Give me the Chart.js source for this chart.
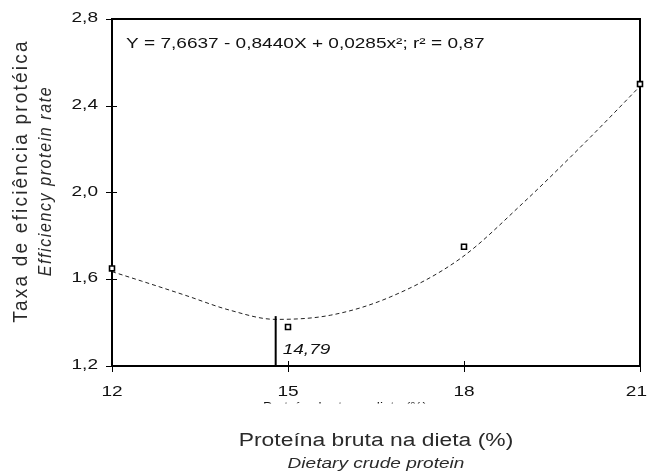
<!DOCTYPE html>
<html>
<head>
<meta charset="utf-8">
<script src="https://cdn.jsdelivr.net/npm/chart.js@4.4.1/dist/chart.umd.min.js"></script>
<style>
html,body{margin:0;padding:0;background:#fff;}
#wrap{position:relative;width:648px;height:475px;}
</style>
</head>
<body>
<div id="wrap"><canvas id="c" width="648" height="475"></canvas></div>
<script>
// ---- data ----
const xTickValues = [12, 15, 18, 21];
const xTickLabels = ['12', '15', '18', '21'];
const yTickValues = [1.2, 1.6, 2.0, 2.4, 2.8];
const yTickLabels = ['1,2', '1,6', '2,0', '2,4', '2,8'];
const observedX = [12, 15, 18, 21];
const observedY = [1.65, 1.38, 1.75, 2.50];
const curveX = [12.0, 12.5, 13.25, 14.0, 14.79, 15.72, 16.74, 17.94, 19.0, 20.15, 21.0];
const curveY = [1.635, 1.592, 1.526, 1.458, 1.415, 1.434, 1.518, 1.696, 1.95, 2.254, 2.49];
const optimumX = [14.79, 14.79];
const optimumY = [1.2, 1.43];
const optimumLabel = '14,79';
const equationText = 'Y = 7,6637 - 0,8440X + 0,0285x\u00B2; r\u00B2 = 0,87';
const yTitle = 'Taxa de efici\u00EAncia prot\u00E9ica';
const yTitleEn = 'Efficiency protein rate';
const xTitle = 'Prote\u00EDna bruta na dieta (%)';
const xTitleEn = 'Dietary crude protein';

const FONT = '"Liberation Sans", Arial, sans-serif';
const SX = 1.27; // horizontal stretch of the reference lettering

function txt(ctx, s, x, y, align, font, sx, base) {
  ctx.save();
  ctx.translate(x, y);
  ctx.scale(sx, 1);
  ctx.font = font;
  ctx.textAlign = align;
  ctx.textBaseline = base || 'middle';
  ctx.fillText(s, 0, 0);
  ctx.restore();
}

const decor = {
  id: 'decor',
  beforeDatasetsDraw(chart) {
    const {ctx, chartArea: a, scales: {x, y}} = chart;
    ctx.save();
    ctx.strokeStyle = '#000';
    ctx.lineWidth = 2;
    ctx.strokeRect(a.left, a.top, a.right - a.left, a.bottom - a.top);
    ctx.lineWidth = 1;
    ctx.beginPath();
    xTickValues.forEach(v => {
      const px = Math.round(x.getPixelForValue(v)) + 0.5;
      ctx.moveTo(px, a.bottom - 5); ctx.lineTo(px, a.bottom + 6);
    });
    yTickValues.forEach(v => {
      const py = Math.round(y.getPixelForValue(v)) + 0.5;
      ctx.moveTo(a.left - 6, py); ctx.lineTo(a.left + 5, py);
    });
    ctx.stroke();
    ctx.restore();
  },
  afterDraw(chart) {
    const {ctx, chartArea: a, scales: {x, y}} = chart;
    ctx.save();
    ctx.fillStyle = '#111';
    const tickFont = '15px ' + FONT;
    // x tick labels
    xTickValues.forEach((v, i) => {
      ctx.font = tickFont;
      const w = ctx.measureText(xTickLabels[i]).width * SX;
      let cx = x.getPixelForValue(v);
      cx = Math.min(cx, chart.width - 1 - w / 2);
      txt(ctx, xTickLabels[i], cx, a.bottom + 26, 'center', tickFont, SX);
    });
    // y tick labels
    yTickValues.forEach((v, i) => {
      txt(ctx, yTickLabels[i], a.left - 14, y.getPixelForValue(v) - 1, 'right', tickFont, SX);
    });
    // equation
    txt(ctx, equationText, a.left + 14, a.top + 25, 'left', '15px ' + FONT, SX);
    // optimum label
    txt(ctx, optimumLabel, x.getPixelForValue(optimumX[0]) + 7, y.getPixelForValue(1.2) - 16,
        'left', 'italic 15px ' + FONT, SX);
    // clipped duplicate title (as in the reference)
    ctx.save();
    ctx.beginPath(); ctx.rect(0, 401, 648, 2.5); ctx.clip();
    txt(ctx, xTitle, 345, 410.5, 'center', '13px ' + FONT, 1.05, 'alphabetic');
    ctx.restore();
    // x titles
    ctx.fillStyle = '#2a2a2a';
    txt(ctx, xTitle, 376, 441, 'center', '18px ' + FONT, SX);
    txt(ctx, xTitleEn, 376, 464, 'center', 'italic 15px ' + FONT, SX);
    // y titles
    ctx.save();
    ctx.translate(21, 182);
    ctx.rotate(-Math.PI / 2);
    ctx.scale(1, 1.1);
    ctx.font = '19px ' + FONT;
    ctx.letterSpacing = '2.2px';
    ctx.textAlign = 'center';
    ctx.textBaseline = 'middle';
    ctx.fillText(yTitle, 1, 0);
    ctx.restore();
    ctx.save();
    ctx.translate(46, 182);
    ctx.rotate(-Math.PI / 2);
    ctx.scale(1, 1.1);
    ctx.font = 'italic 16px ' + FONT;
    ctx.letterSpacing = '1.6px';
    ctx.textAlign = 'center';
    ctx.textBaseline = 'middle';
    ctx.fillText(yTitleEn, 1, 0);
    ctx.restore();
    ctx.restore();
  }
};

new Chart(document.getElementById('c'), {
  type: 'scatter',
  data: {
    datasets: [
      {
        type: 'line',
        data: curveX.map((v, i) => ({x: v, y: curveY[i]})),
        borderColor: '#222',
        borderWidth: 1,
        borderDash: [4, 3],
        pointRadius: 0,
        cubicInterpolationMode: 'monotone',
        fill: false,
        order: 3
      },
      {
        type: 'line',
        data: optimumX.map((v, i) => ({x: v, y: optimumY[i]})),
        borderColor: '#000',
        borderWidth: 2,
        pointRadius: 0,
        fill: false,
        order: 2
      },
      {
        data: observedX.map((v, i) => ({x: v, y: observedY[i]})),
        pointStyle: 'rect',
        pointRadius: 3.5,
        borderWidth: 1.6,
        borderColor: '#000',
        backgroundColor: '#fff',
        clip: false,
        order: 1
      }
    ]
  },
  options: {
    responsive: false,
    animation: false,
    events: [],
    layout: {padding: {top: 19, right: 8, left: 0, bottom: 0}},
    plugins: {legend: {display: false}, tooltip: {enabled: false}},
    scales: {
      x: {
        type: 'linear', min: 12, max: 21,
        grid: {display: false}, border: {display: false},
        ticks: {display: false},
        afterBuildTicks: s => { s.ticks = xTickValues.map(v => ({value: v})); },
        afterFit: s => { s.height = 109; }
      },
      y: {
        type: 'linear', min: 1.2, max: 2.8,
        grid: {display: false}, border: {display: false},
        ticks: {display: false},
        afterBuildTicks: s => { s.ticks = yTickValues.map(v => ({value: v})); },
        afterFit: s => { s.width = 112; }
      }
    }
  },
  plugins: [decor]
});
</script>
</body>
</html>
